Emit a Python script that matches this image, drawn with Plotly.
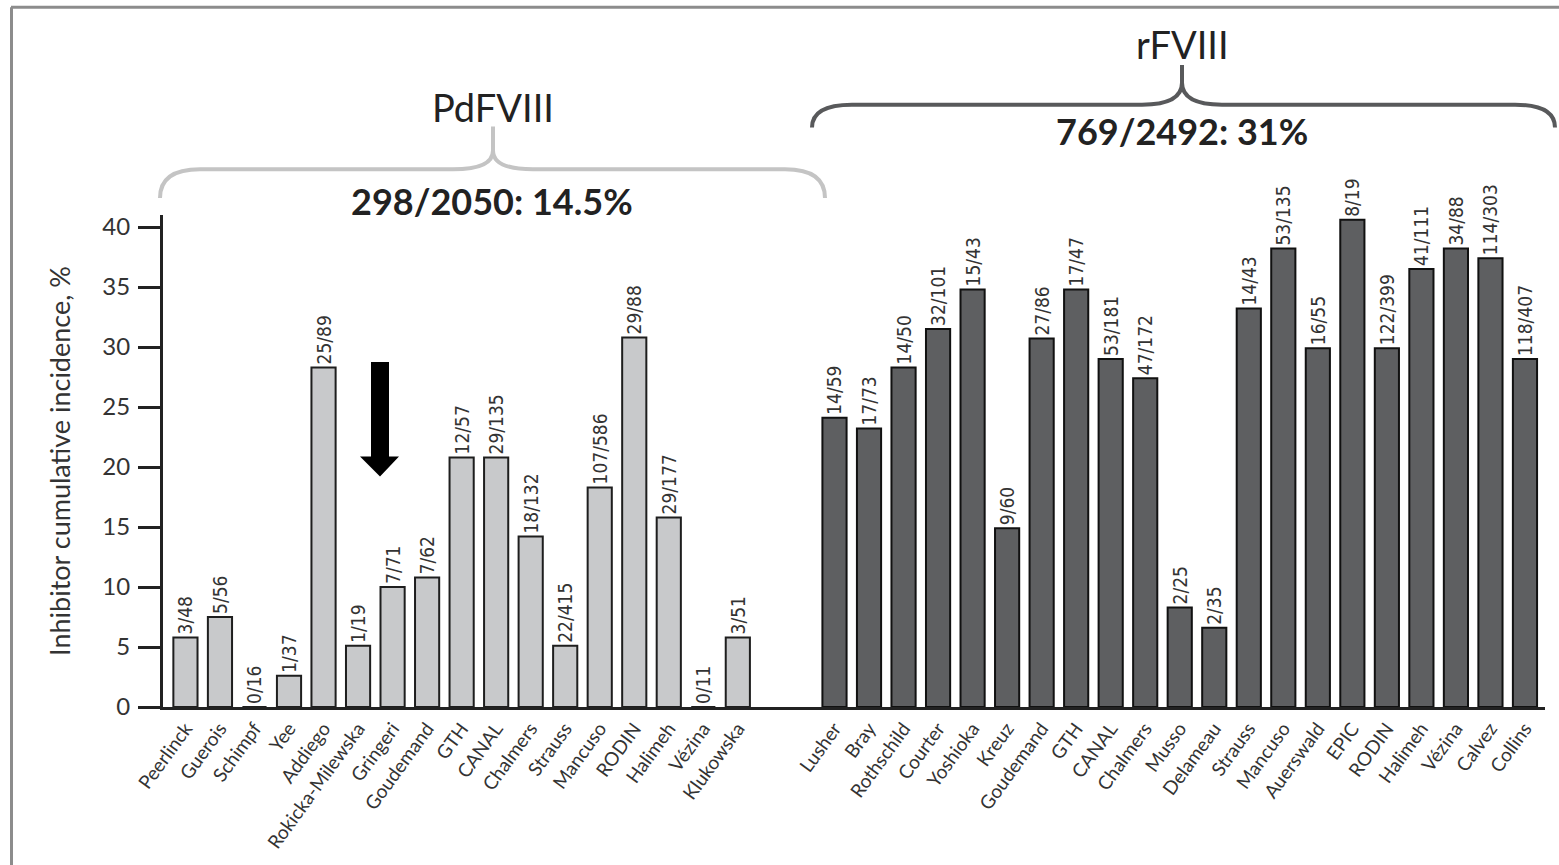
import plotly.graph_objects as go

# ---------------- data ----------------
pd_studies = ["Peerlinck", "Guerois", "Schimpf", "Yee", "Addiego", "Rokicka-Milewska",
              "Gringeri", "Goudemand", "GTH", "CANAL", "Chalmers", "Strauss",
              "Mancuso", "RODIN", "Halimeh", "Vézina", "Klukowska"]
pd_values = [5.8, 7.5, 0, 2.6, 28.3, 5.1, 10.0, 10.8, 20.8, 20.8, 14.2, 5.1,
             18.3, 30.8, 15.8, 0, 5.8]
pd_labels = ["3/48", "5/56", "0/16", "1/37", "25/89", "1/19", "7/71", "7/62",
             "12/57", "29/135", "18/132", "22/415", "107/586", "29/88",
             "29/177", "0/11", "3/51"]

r_studies = ["Lusher", "Bray", "Rothschild", "Courter", "Yoshioka", "Kreuz",
             "Goudemand", "GTH", "CANAL", "Chalmers", "Musso", "Delameau",
             "Strauss", "Mancuso", "Auerswald", "EPIC", "RODIN", "Halimeh",
             "Vézina", "Calvez", "Collins"]
r_values = [24.1, 23.2, 28.3, 31.5, 34.8, 14.9, 30.7, 34.8, 29.0, 27.4, 8.3,
            6.6, 33.2, 38.2, 29.9, 40.6, 29.9, 36.5, 38.2, 37.4, 29.0]
r_labels = ["14/59", "17/73", "14/50", "32/101", "15/43", "9/60", "27/86",
            "17/47", "53/181", "47/172", "2/25", "2/35", "14/43", "53/135",
            "16/55", "8/19", "122/399", "41/111", "34/88", "114/303", "118/407"]

y_ticks = [0, 5, 10, 15, 20, 25, 30, 35, 40]
group_names = ["PdFVIII", "rFVIII"]
group_stats = ["298/2050: 14.5%", "769/2492: 31%"]
y_title = "Inhibitor cumulative incidence, %"

# ---------------- layout geometry ----------------
W, H = 1559, 865
L, R, T, B = 163, 14, 215, 155
Y_TOP = 41.0
GAP = 18.8  # position of the first rFVIII bar on the category axis
pd_x = list(range(len(pd_studies)))
r_x = [GAP + i for i in range(len(r_studies))]

PW = W - L - R
PH = H - T - B


def px(x):
    return (x - L) / PW


def py(y):
    return (H - B - y) / PH


LBL_FONT = dict(family="DejaVu Sans Condensed, DejaVu Sans, sans-serif", size=19, color="#333333")

fig = go.Figure()
fig.add_trace(go.Bar(
    x=pd_x, y=pd_values, text=pd_labels, textposition="outside", textangle=-90,
    cliponaxis=False, constraintext="none", textfont=LBL_FONT,
    marker=dict(color="#c8c9cb", line=dict(color="#1e1e1e", width=2)),
    hoverinfo="skip", showlegend=False,
))
fig.add_trace(go.Bar(
    x=r_x, y=r_values, text=r_labels, textposition="outside", textangle=-90,
    cliponaxis=False, constraintext="none", textfont=LBL_FONT,
    marker=dict(color="#5e5f61", line=dict(color="#111111", width=2)),
    hoverinfo="skip", showlegend=False,
))


def brace_path(xl, xr, ye, yh, xc, yc, yt, r=40):
    return (f"M {px(xl)},{py(ye)} Q {px(xl)},{py(yh)} {px(xl + r)},{py(yh)} "
            f"L {px(xc - r)},{py(yh)} Q {px(xc)},{py(yh)} {px(xc)},{py(yc)} "
            f"L {px(xc)},{py(yt)} M {px(xc)},{py(yc)} "
            f"Q {px(xc)},{py(yh)} {px(xc + r)},{py(yh)} "
            f"L {px(xr - r)},{py(yh)} Q {px(xr)},{py(yh)} {px(xr)},{py(ye)}")


shapes = []
# PdFVIII brace (light grey)
shapes.append(dict(type="path", xref="paper", yref="paper",
                   path=brace_path(160, 825, 198, 169, 493, 150, 126),
                   line=dict(color="#c4c4c4", width=4)))
# rFVIII brace (dark grey)
shapes.append(dict(type="path", xref="paper", yref="paper",
                   path=brace_path(812, 1555, 127, 104, 1182, 82, 64),
                   line=dict(color="#58595b", width=4)))
# black arrow
arrow = (f"M {px(371)},{py(363)} L {px(389)},{py(363)} L {px(389)},{py(458)} "
         f"L {px(399)},{py(458)} L {px(380)},{py(478)} L {px(360)},{py(458)} "
         f"L {px(371)},{py(458)} Z")
shapes.append(dict(type="path", xref="paper", yref="paper", path=arrow,
                   fillcolor="black", line=dict(color="black", width=0)))
# picture frame (top and left)
shapes.append(dict(type="line", xref="paper", yref="paper",
                   x0=px(11), y0=py(6), x1=px(1562), y1=py(6),
                   line=dict(color="#8c8c8c", width=3)))
shapes.append(dict(type="line", xref="paper", yref="paper",
                   x0=px(11.5), y0=py(6), x1=px(11.5), y1=py(870),
                   line=dict(color="#8c8c8c", width=3)))

TXT = "Lato, sans-serif"


def note(text, x, y, size):
    return dict(text=text, x=px(x), y=py(y), xref="paper", yref="paper",
                xanchor="center", yanchor="middle", showarrow=False,
                font=dict(family=TXT, size=size, color="#222222"))


annotations = [
    note(group_names[0], 493, 106, 38),
    note("<b>" + group_stats[0] + "</b>", 492, 201, 36),
    note(group_names[1], 1182, 43, 38),
    note("<b>" + group_stats[1] + "</b>", 1182, 130, 36),
]

fig.update_layout(
    width=W, height=H,
    margin=dict(l=L, r=R, t=T, b=B, pad=0),
    paper_bgcolor="white", plot_bgcolor="white",
    bargap=0.3,
    shapes=shapes, annotations=annotations,
    xaxis=dict(
        range=[-0.65, GAP + len(r_studies) - 1 + 0.58],
        tickmode="array", tickvals=pd_x + r_x, ticktext=pd_studies + r_studies,
        tickangle=-54, ticks="", showgrid=False, zeroline=False,
        showline=True, linecolor="#222222", linewidth=3,
        tickfont=dict(family=TXT, size=19, color="#333333"),
    ),
    yaxis=dict(
        range=[0, Y_TOP], tickmode="array", tickvals=y_ticks,
        ticks="outside", ticklen=22, tickwidth=2.5, tickcolor="#222222",
        ticklabelstandoff=3,
        showgrid=False, zeroline=False, showline=True, linecolor="#222222", linewidth=3,
        tickfont=dict(family=TXT, size=24, color="#333333"),
        title=dict(text=y_title, font=dict(family=TXT, size=27, color="#333333"), standoff=24),
    ),
    hovermode=False,
)

fig.write_html("out.html")
